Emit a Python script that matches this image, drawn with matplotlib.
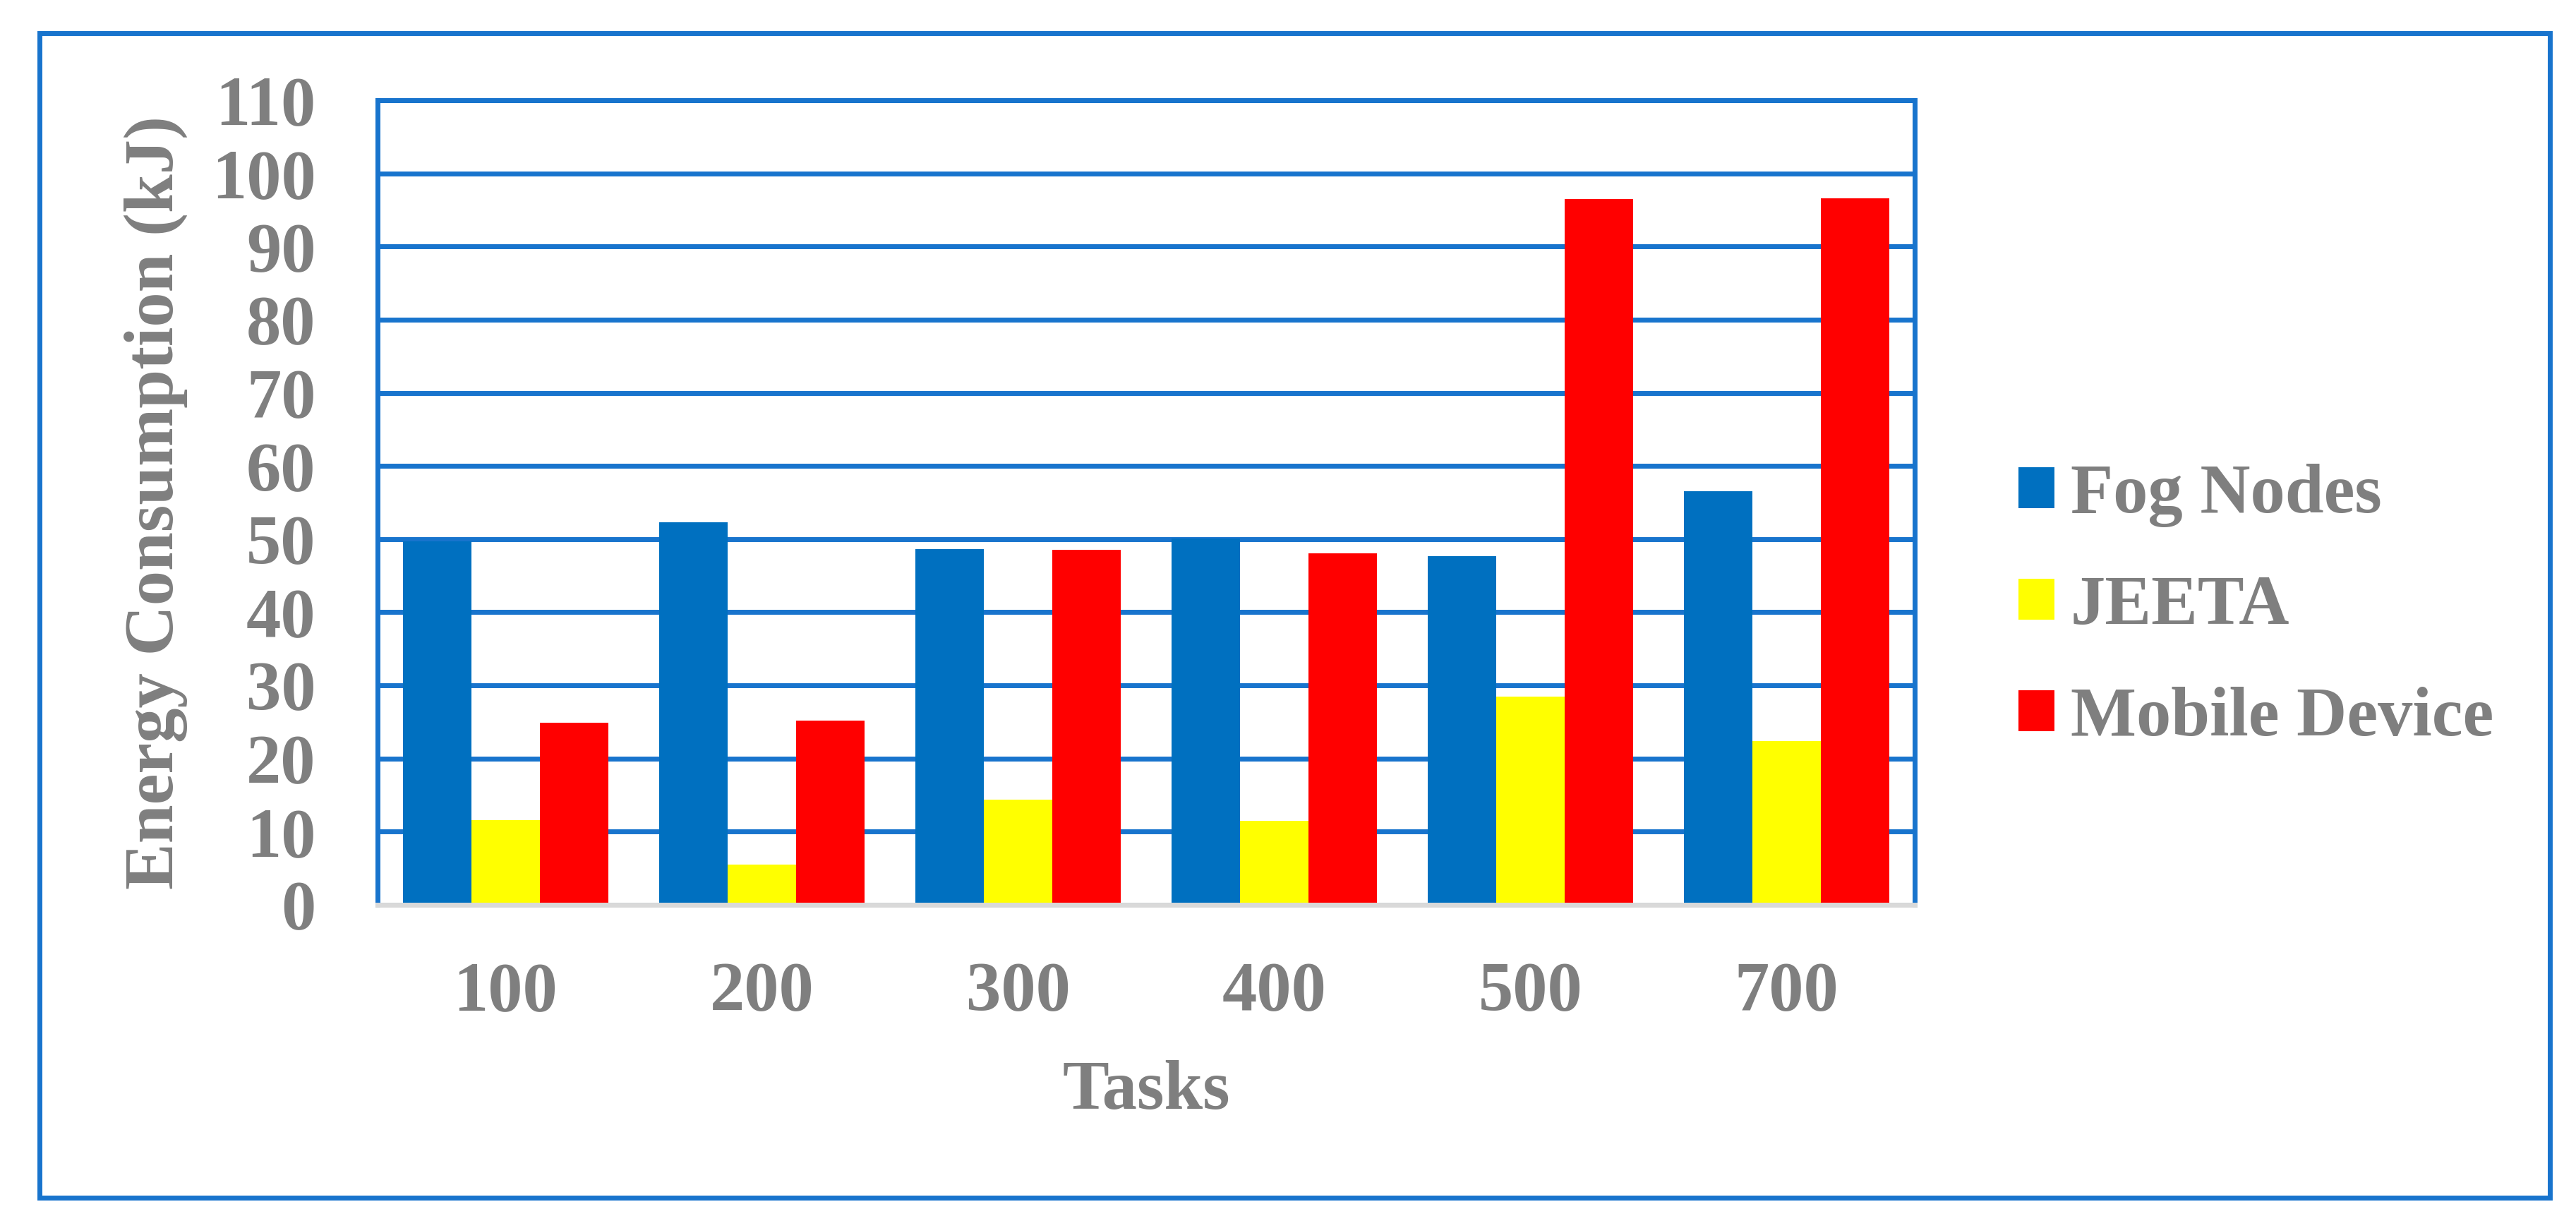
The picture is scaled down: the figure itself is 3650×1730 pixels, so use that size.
import numpy as np
import matplotlib.pyplot as plt
from matplotlib.patches import Rectangle, Patch

# Data #
tasks = ['100', '200', '300', '400', '500', '700']
series_names = ['Fog Nodes', 'JEETA', 'Mobile Device']
fog_nodes = [49.7, 52.3, 48.6, 50.1, 47.7, 56.5]
jeeta = [11.6, 5.5, 14.4, 11.5, 28.5, 22.4]
mobile_device = [24.9, 25.2, 48.5, 48.1, 96.5, 96.6]
y_ticks = [0, 10, 20, 30, 40, 50, 60, 70, 80, 90, 100, 110]

# Style #
text_grey = '#7F7F7F'
frame_blue = '#1874CD'
axis_grey = '#D9D9D9'
bar_colors = ['#0070C0', '#FFFF00', '#FF0000']
fs = 71
lw = 5.0

plt.rcParams['font.family'] = ['Liberation Serif', 'DejaVu Serif']
plt.rcParams['font.weight'] = 'bold'
plt.rcParams['axes.labelweight'] = 'bold'

W, H = 3650, 1730
fig = plt.figure(figsize=(W / 100, H / 100), dpi=100)
ax = fig.add_axes([535 / W, 1 - 1282 / H, 2178 / W, 1140 / H])

# Bars #
x = np.arange(len(tasks))
bw = 0.8 / 3
for i, vals in enumerate([fog_nodes, jeeta, mobile_device]):
    ax.bar(x + (i - 1) * bw, vals, width=bw, color=bar_colors[i],
           label=series_names[i], zorder=2)

ax.set_xlim(-0.5, len(tasks) - 0.5)
ax.set_ylim(0, 110)
ax.set_yticks(y_ticks)
ax.set_xticks(x)
ax.set_xticklabels(tasks)

ax.set_axisbelow(True)
ax.grid(axis='y', color=frame_blue, linewidth=lw)
for side in ['left', 'top', 'right']:
    ax.spines[side].set_color(frame_blue)
    ax.spines[side].set_linewidth(lw)
ax.spines['bottom'].set_color(axis_grey)
ax.spines['bottom'].set_linewidth(lw)

ax.tick_params(axis='both', length=0, labelsize=fs, labelcolor=text_grey)
ax.tick_params(axis='y', pad=63)
ax.tick_params(axis='x', pad=58)

ax.set_ylabel('Energy Consumption (kJ)', fontsize=fs, fontweight='bold',
              color=text_grey, va='center')
ax.yaxis.set_label_coords(-0.1442, 0.5)
ax.set_xlabel('Tasks', fontsize=fs, fontweight='bold', color=text_grey)
ax.xaxis.set_label_coords(0.5, -0.193)

# Legend #
handles = [Patch(facecolor=c, edgecolor='none') for c in bar_colors]
leg = fig.legend(handles, series_names, loc='center left',
                 bbox_to_anchor=(2860 / W, 1 - 860 / H), frameon=False,
                 fontsize=fs, handlelength=0.52, handleheight=0.52,
                 handletextpad=0.23, labelspacing=0.69, borderpad=0,
                 borderaxespad=0)
for t in leg.get_texts():
    t.set_color(text_grey)

# Outer frame #
fig.add_artist(Rectangle((56 / W, 1 - 1697 / H), 3557 / W, 1650 / H,
                         transform=fig.transFigure, fill=False,
                         edgecolor=frame_blue, linewidth=lw))

fig.savefig('out.png', dpi=100, facecolor='white')
